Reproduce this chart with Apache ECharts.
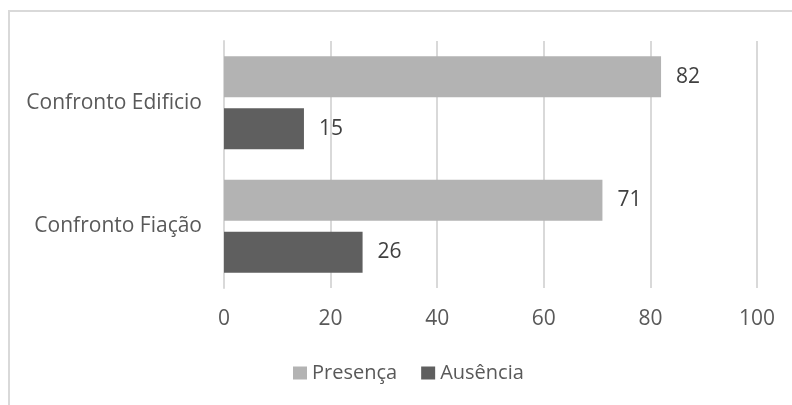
<!DOCTYPE html>
<html>
<head>
<meta charset="utf-8">
<script src="https://cdn.jsdelivr.net/npm/echarts@6/dist/echarts.min.js"></script>
<style>
  html, body { margin: 0; padding: 0; background: #fff; }
  #frame { position: absolute; left: 8px; top: 10px; width: 800px; height: 420px;
           border: 2px solid #d9d9d9; box-sizing: border-box; }
  #chart { position: absolute; left: 0; top: 0; width: 792px; height: 405px; }
</style>
</head>
<body>
<div id="frame"></div>
<div id="chart"></div>
<script>
// Categories (top to bottom) and the two series
const categories = ['Confronto Edificio', 'Confronto Fiação'];
const presenca = [82, 71];
const ausencia = [15, 26];
const xTicks = [0, 20, 40, 60, 80, 100];

const FONT = 'Open Sans';
const TEXT = '#595959';
const SIZE = 21;

const chart = echarts.init(document.getElementById('chart'), null, { renderer: 'canvas' });

const labelStyle = {
  show: true,
  position: 'right',
  distance: 15,
  color: '#404040',
  fontFamily: FONT,
  fontSize: SIZE
};

chart.setOption({
  animation: false,
  textStyle: { fontFamily: FONT },
  grid: { left: 224, right: 35, top: 41, bottom: 117, containLabel: false },
  legend: {
    data: ['Presença', 'Ausência'],
    bottom: 17,
    left: 288,
    itemWidth: 14,
    itemHeight: 13,
    itemGap: 24,
    icon: 'rect',
    textStyle: { color: TEXT, fontFamily: FONT, fontSize: 20 }
  },
  xAxis: {
    type: 'value',
    min: xTicks[0],
    max: xTicks[xTicks.length - 1],
    interval: 20,
    axisLine: { show: false },
    axisTick: { show: false },
    splitLine: { show: true, lineStyle: { color: '#d9d9d9', width: 2 } },
    axisLabel: { color: TEXT, fontFamily: FONT, fontSize: SIZE, margin: 21 }
  },
  yAxis: {
    type: 'category',
    data: categories,
    inverse: true,
    axisLine: { show: true, lineStyle: { color: '#d9d9d9', width: 2 } },
    axisTick: { show: false },
    axisLabel: { color: TEXT, fontFamily: FONT, fontSize: SIZE, margin: 22 }
  },
  series: [
    {
      name: 'Presença',
      type: 'bar',
      data: presenca,
      barWidth: 41,
      barGap: '27%',
      itemStyle: { color: '#b3b3b3' },
      label: labelStyle
    },
    {
      name: 'Ausência',
      type: 'bar',
      data: ausencia,
      barWidth: 41,
      barGap: '27%',
      itemStyle: { color: '#5f5f5f' },
      label: labelStyle
    }
  ]
});
</script>
</body>
</html>
